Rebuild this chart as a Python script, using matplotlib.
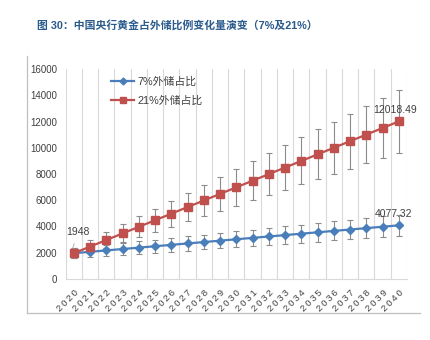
import numpy as np
import matplotlib
matplotlib.use("Agg")
import matplotlib.pyplot as plt
from matplotlib.lines import Line2D

plt.rcParams['font.family'] = ['Liberation Sans', 'Noto Sans CJK SC', 'DejaVu Sans']

years = list(range(2020, 2041))
share_7 = [1948, 2054, 2161, 2267, 2374, 2480, 2587, 2693, 2800, 2906, 3013,
           3119, 3226, 3332, 3438, 3545, 3651, 3758, 3864, 3971, 4077.32]
share_21 = [1948, 2452, 2955, 3459, 3962, 4466, 4969, 5473, 5976, 6480, 6983,
            7487, 7990, 8494, 8997, 9501, 10004, 10508, 11011, 11515, 12018.49]
err_pct = 0.20  # percentage error bars
labels = ['7%外储占比', '21%外储占比']
title = '图 30：中国央行黄金占外储比例变化量演变（7%及21%）'

blue = '#4A7EBB'
red = '#C0504D'
grey_err = '#8C8C8C'
grid_c = '#D9D9D9'
txt_c = '#404040'

fig = plt.figure(figsize=(4.31, 3.40), dpi=100)
ax = fig.add_axes([0.1524, 0.1803, 0.7919, 0.6159])

x = np.arange(len(years))
b = np.array(share_7)
r = np.array(share_21)

ax.errorbar(x, b, yerr=b * err_pct, fmt='none', ecolor=grey_err, elinewidth=0.8,
            capsize=2.3, capthick=0.8, zorder=2)
ax.errorbar(x, r, yerr=r * err_pct, fmt='none', ecolor=grey_err, elinewidth=0.8,
            capsize=2.3, capthick=0.8, zorder=2)
ax.plot(x, b, color=blue, lw=1.6, marker='D', ms=4.2, mec=blue, mfc=blue, zorder=3,
        label=labels[0])
ax.plot(x, r, color=red, lw=1.6, marker='s', ms=5.8, mec=red, mfc=red, zorder=4,
        label=labels[1])

ax.set_xlim(-0.5, len(years) - 0.5)
ax.set_ylim(0, 16000)
ax.set_yticks(np.arange(0, 16001, 2000))
ax.set_yticklabels([str(v) for v in range(0, 16001, 2000)], fontsize=7, color=txt_c)

ax.set_xticks(x)
ax.set_xticklabels(['\u2009'.join(str(y)) for y in years], rotation=45, ha='right',
                   va='top', rotation_mode='anchor', fontsize=6.8, color=txt_c)
ax.set_xticks(np.arange(-0.5, len(years)), minor=True)
ax.tick_params(axis='x', which='major', length=0, pad=7)
ax.tick_params(axis='x', which='minor', length=0)
ax.tick_params(axis='y', length=0, pad=6.3)
ax.grid(True, axis='x', which='minor', color=grid_c, lw=0.8)
ax.grid(False, axis='x', which='major')
for s in ['top', 'right', 'left']:
    ax.spines[s].set_visible(False)
ax.spines['bottom'].set_color(grid_c)
ax.spines['bottom'].set_linewidth(0.8)

# value labels
ax.annotate(f'{share_21[0]:g}', xy=(x[0] - 0.1, r[0] + 250), xytext=(x[0] + 0.25, 3580),
            fontsize=7.5, color=txt_c, ha='center', va='center',
            arrowprops=dict(arrowstyle='-', color='#A6A6A6', lw=0.6, shrinkA=3, shrinkB=0))
ax.text(x[-1] - 0.25, r[-1] + 500, f'{share_21[-1]:.2f}', fontsize=7.5, color=txt_c,
        ha='center', va='bottom')
ax.text(x[-1] - 0.35, b[-1] + 500, f'{share_7[-1]:.2f}', fontsize=7.5, color=txt_c,
        ha='center', va='bottom')

handles = [Line2D([], [], color=blue, lw=1.6, marker='D', ms=3.5),
           Line2D([], [], color=red, lw=1.6, marker='s', ms=5.0)]
ax.legend(handles, labels, loc='upper left', bbox_to_anchor=(0.118, 0.99), frameon=False,
          fontsize=7.8, handlelength=2.1, handletextpad=0.3, labelspacing=0.8,
          borderpad=0, labelcolor=txt_c)

fig.text(0.086, 0.926, title, fontsize=7.8, fontweight='bold', color='#2A5A8C',
         family=['Liberation Sans', 'Noto Sans CJK SC'], va='center', ha='left')

# outer frame (left and bottom edges)
fig.add_artist(Line2D([0.0615, 0.0615], [0.835, 0.0794], color='#BFBFBF', lw=0.9))
fig.add_artist(Line2D([0.0615, 0.9745], [0.0794, 0.0794], color='#BFBFBF', lw=0.9))

fig.savefig('out.png', dpi=100, facecolor='white')
